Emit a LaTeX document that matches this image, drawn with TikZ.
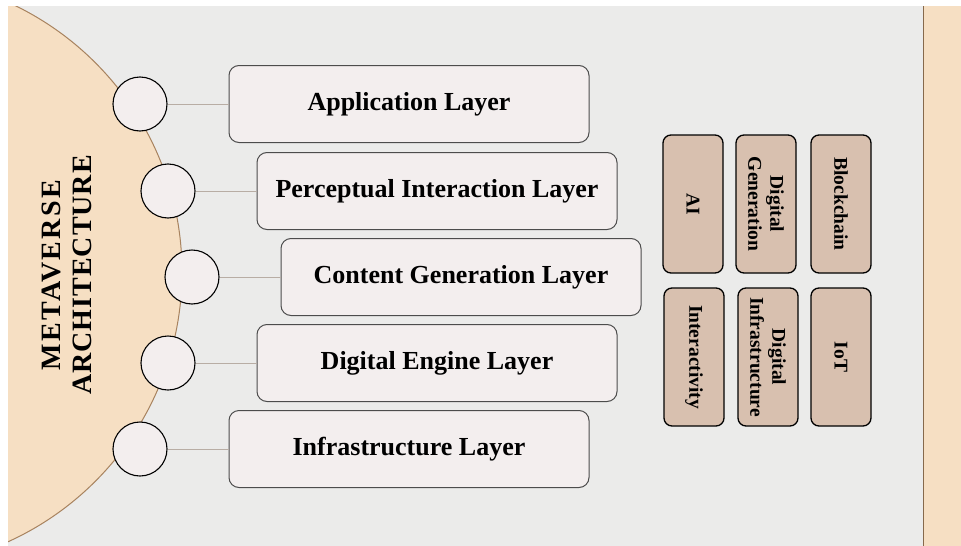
\documentclass[tikz,border=0pt]{standalone}
\usepackage{fontspec}
\setmainfont{Liberation Serif}
\definecolor{paper}{HTML}{EBEBEA}
\definecolor{peach}{HTML}{F6DFC3}
\definecolor{rim}{HTML}{A8835F}
\definecolor{boxfill}{HTML}{F3EEEE}
\definecolor{tilefill}{HTML}{D8C0AF}
\definecolor{wire}{HTML}{B8ADA4}
\tikzset{
  layer/.style={draw=black!70, fill=boxfill, rounded corners=10pt, line width=1pt,
    minimum width=360pt, minimum height=77pt, font=\fontsize{26}{30}\selectfont\bfseries},
  port/.style={circle, draw=black, fill=boxfill, line width=1.1pt, minimum size=54pt, inner sep=0pt},
  tile/.style={draw=black, fill=tilefill, rounded corners=8pt, line width=1.3pt, rotate=-90,
    minimum width=138pt, minimum height=60pt, inner sep=2pt, align=center,
    font=\fontsize{19.5}{22}\selectfont\bfseries},
}
\begin{document}
\begin{tikzpicture}[x=1pt,y=-1pt]
                \useasboundingbox (0,0) rectangle (961,546);
                \fill[white] (0,0) rectangle (961,546);
                \fill[paper] (8,6) rectangle (961,546);
                \fill[peach] (924,6) rectangle (961,546);
                \draw[rim!80!black, line width=1pt] (923,6) -- (923,546);
                \begin{scope}
                \clip (8,6) rectangle (961,546);
                \draw[rim, fill=peach, line width=1pt] (-114,272) circle (296);
                \end{scope}
                \node[rotate=90, align=center, font=\fontsize{28}{31}\selectfont\bfseries] (title) at (67,275)
                  {{\addfontfeature{LetterSpace=8.3}METAVERSE}\\{\addfontfeature{LetterSpace=3.6}ARCHITECTURE}};
                % layers
                \node[layer] (app) at (409,104) {Application Layer};
                \node[layer] (perc) at (437,191) {Perceptual Interaction Layer};
                \node[layer] (cont) at (461,277) {Content Generation Layer};
                \node[layer] (eng) at (437,363) {Digital Engine Layer};
                \node[layer] (infra) at (409,449) {Infrastructure Layer};
                \node[port] (p1) at (140,104) {};
                \node[port] (p2) at (168,191) {};
                \node[port] (p3) at (192,277) {};
                \node[port] (p4) at (168,363) {};
                \node[port] (p5) at (140,449) {};
                \draw[wire, line width=1pt] (p1) -- (app) (p2) -- (perc) (p3) -- (cont) (p4) -- (eng) (p5) -- (infra);
                % technologies
                \node[tile] (ai) at (693,204) {AI};
                \node[tile] (dgen) at (766,204) {Digital\\Generation};
                \node[tile] (chain) at (841,204) {Blockchain};
                \node[tile] (inter) at (694,357) {Interactivity};
                \node[tile] (dinf) at (768,357) {Digital\\Infrastructure};
                \node[tile] (iot) at (841,357) {IoT};
            \end{tikzpicture}
\end{document}
